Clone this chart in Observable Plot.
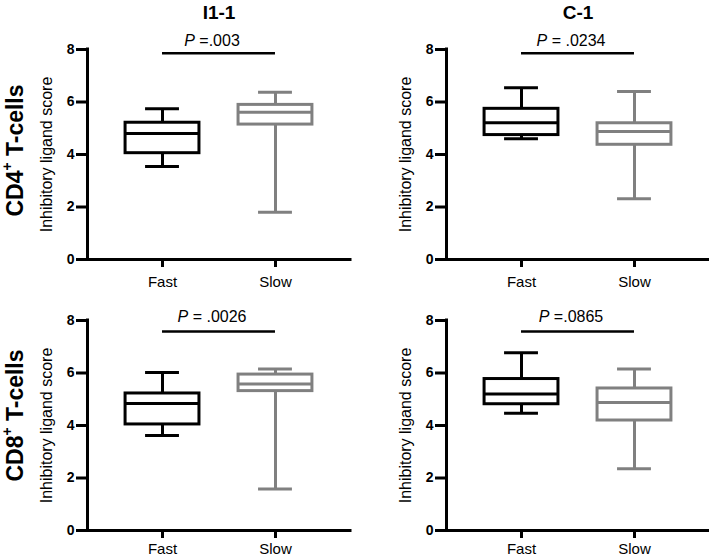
<!DOCTYPE html>
<html><head><meta charset="utf-8">
<script src="https://cdn.jsdelivr.net/npm/d3@7"></script>
<script src="https://cdn.jsdelivr.net/npm/@observablehq/plot@0.6"></script>
<style>
body{margin:0;background:#fff;font-family:"Liberation Sans",Arial,sans-serif;}
#wrap{position:relative;width:709px;height:559px;overflow:hidden;background:#fff;}
.panel{position:absolute;}
.title{position:absolute;width:200px;text-align:center;font-weight:bold;font-size:19px;line-height:19px;}
.rowlab{position:absolute;width:200px;text-align:center;font-weight:bold;font-size:23px;line-height:23px;transform:rotate(-90deg);white-space:nowrap;}
.rowlab sup{font-size:0.6em;line-height:0;vertical-align:0.75em;}
</style></head><body><div id="wrap"></div>
<script>
// ---- data ----
const groups = ["Fast", "Slow"];
const columnTitles = ["I1-1", "C-1"];
const rowLabels = ["CD4", "CD8"];
const yTicks = [0, 2, 4, 6, 8];
// [min, q1, median, q3, max]
const cd4I11Fast = [3.54, 4.05, 4.80, 5.21, 5.74];
const cd4I11Slow = [1.80, 5.14, 5.61, 5.89, 6.37];
const cd4C1Fast  = [4.60, 4.74, 5.21, 5.74, 6.54];
const cd4C1Slow  = [2.31, 4.37, 4.88, 5.19, 6.40];
const cd8I11Fast = [3.62, 4.04, 4.84, 5.22, 6.02];
const cd8I11Slow = [1.58, 5.31, 5.58, 5.94, 6.15];
const cd8C1Fast  = [4.47, 4.81, 5.20, 5.77, 6.77];
const cd8C1Slow  = [2.35, 4.19, 4.88, 5.41, 6.15];
const pLabels = ["P =.003", "P = .0234", "P = .0026", "P =.0865"];
const pLineY = [7.86, 7.86, 7.58, 7.58];
const pTextY = [8.15, 8.15, 7.94, 7.94];
const groupColors = ["#000000", "#808080"];

const panelStats = [
  [cd4I11Fast, cd4I11Slow],
  [cd4C1Fast, cd4C1Slow],
  [cd8I11Fast, cd8I11Slow],
  [cd8C1Fast, cd8C1Slow]
];

const wrap = document.getElementById("wrap");
const xDomain = [-0.664, 1.664];
const boxHalf = 0.327, capHalf = 0.15;

function makePanel(k) {
  const data = groups.map((g, i) => {
    const s = panelStats[k][i];
    return {group: g, i, min: s[0], q1: s[1], med: s[2], q3: s[3], max: s[4], color: groupColors[i]};
  });
  const svg = Plot.plot({
    width: 350, height: 288,
    marginLeft: 87, marginRight: 0, marginTop: 49, marginBottom: 29,
    x: {domain: xDomain},
    y: {domain: [0, 8]},
    color: {type: "identity"},
    style: {fontFamily: "'Liberation Sans', Arial, sans-serif", background: "transparent", overflow: "visible"},
    marks: [
      Plot.ruleX(data, {x: "i", y1: "min", y2: "q1", stroke: "color", strokeWidth: 3}),
      Plot.ruleX(data, {x: "i", y1: "q3", y2: "max", stroke: "color", strokeWidth: 3}),
      Plot.ruleY(data, {y: "min", x1: d => d.i - capHalf, x2: d => d.i + capHalf, stroke: "color", strokeWidth: 3}),
      Plot.ruleY(data, {y: "max", x1: d => d.i - capHalf, x2: d => d.i + capHalf, stroke: "color", strokeWidth: 3}),
      Plot.rect(data, {x1: d => d.i - boxHalf, x2: d => d.i + boxHalf, y1: "q1", y2: "q3", fill: "white", stroke: "color", strokeWidth: 3}),
      Plot.ruleY(data, {y: "med", x1: d => d.i - boxHalf, x2: d => d.i + boxHalf, stroke: "color", strokeWidth: 3}),
      Plot.axisY({ticks: yTicks, tickSize: 11, tickPadding: 2, strokeWidth: 3, fontSize: 14, fontWeight: "bold", label: null, tickFormat: d => String(d)}),
      Plot.axisX({ticks: [0, 1], tickSize: 8, tickPadding: k < 2 ? 9 : 5, strokeWidth: 3, fontSize: 15, label: null, tickFormat: i => groups[i]}),
      Plot.ruleX([xDomain[0]], {y1: 0, y2: 8, strokeWidth: 3, strokeLinecap: "square"}),
      Plot.ruleY([0], {strokeWidth: 3, strokeLinecap: "square"}),
      Plot.text(["Inhibitory ligand score"], {frameAnchor: "left", textAnchor: "middle", rotate: -90, dx: -41, fontSize: 16}),
      Plot.ruleY([pLineY[k]], {x1: 0, x2: 1, strokeWidth: 2.5}),
      Plot.text([pLabels[k]], {x: 0.5, y: pTextY[k], dx: -7, lineAnchor: "bottom", textAnchor: "middle", fontSize: 16})
    ]
  });
  svg.querySelectorAll("text").forEach(t => {
    if (t.textContent.startsWith("P ")) {
      const rest = t.textContent.slice(1);
      t.textContent = "";
      const ts = document.createElementNS("http://www.w3.org/2000/svg", "tspan");
      ts.setAttribute("font-style", "italic");
      ts.textContent = "P";
      t.appendChild(ts);
      t.appendChild(document.createTextNode(rest));
    }
  });
  const div = document.createElement("div");
  div.className = "panel";
  div.style.left = (k % 2 === 0 ? 0 : 359) + "px";
  div.style.top = (k < 2 ? 0 : 271) + "px";
  div.appendChild(svg);
  wrap.appendChild(div);
}
for (let k = 0; k < 4; k++) makePanel(k);

// column titles
columnTitles.forEach((t, c) => {
  const d = document.createElement("div");
  d.className = "title";
  d.textContent = t;
  d.style.left = (219 + c * 359 - 100) + "px";
  d.style.top = "3px";
  wrap.appendChild(d);
});
// row labels
const rowCenters = [150, 415];
rowLabels.forEach((r, j) => {
  const d = document.createElement("div");
  d.className = "rowlab";
  d.innerHTML = r + "<sup>+</sup> T-cells";
  d.style.left = (15 - 100) + "px";
  d.style.top = (rowCenters[j] - 11.5) + "px";
  wrap.appendChild(d);
});
</script></body></html>
